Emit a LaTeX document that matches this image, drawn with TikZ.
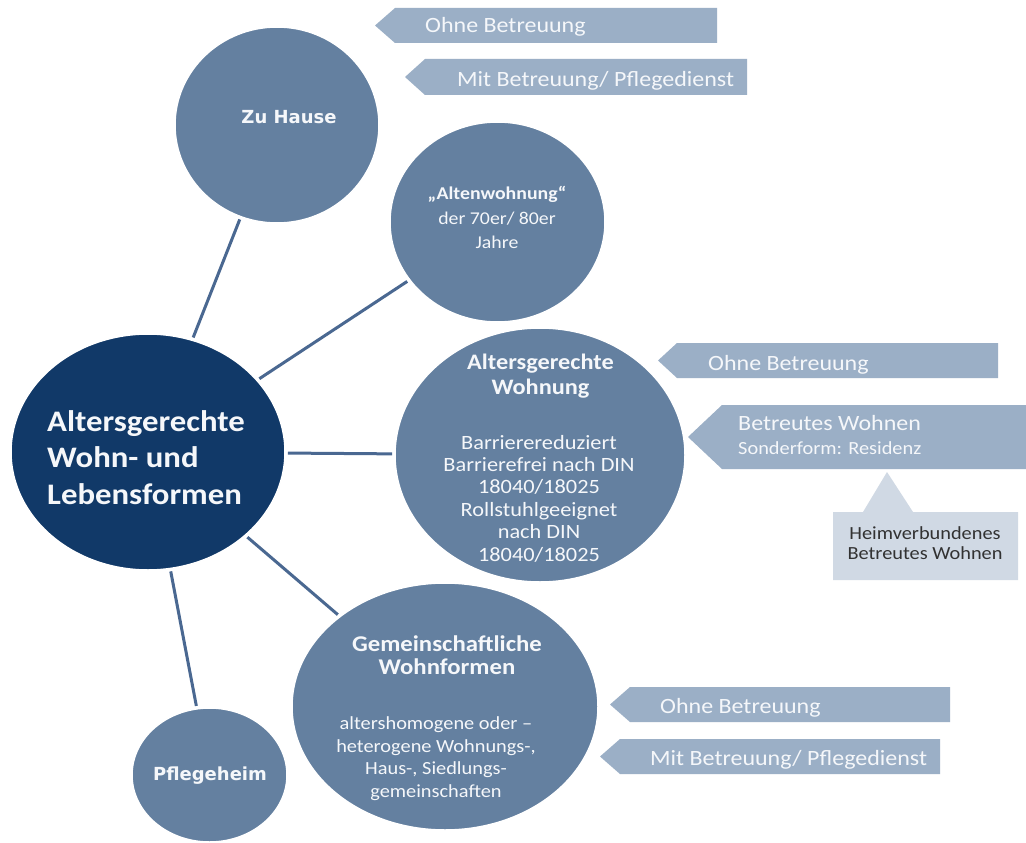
\documentclass[tikz,border=0pt]{standalone}
\usepackage{fontspec}
\setmainfont{Carlito}[FakeStretch=1.1]
\newfontfamily\dvfont{DejaVu Sans}
\usetikzlibrary{shapes.geometric}
\definecolor{mainblue}{RGB}{17,57,104}
\definecolor{circblue}{RGB}{100,128,160}
\definecolor{arrowcol}{RGB}{155,175,198}
\definecolor{heimcol}{RGB}{208,217,228}
\definecolor{linecol}{RGB}{74,104,145}
\definecolor{txtlight}{RGB}{245,247,250}
\definecolor{heimtext}{RGB}{50,50,50}
\tikzset{
  circ/.style={ellipse, fill=circblue, draw=white, line width=1.5pt, inner sep=0pt, outer sep=0pt},
  conn/.style={draw=linecol, line width=3pt, shorten >=3pt, shorten <=3pt},
  arrowbox/.style={fill=arrowcol},
  ctext/.style={text=txtlight, inner sep=0pt, align=center},
  atext/.style={text=txtlight, inner sep=0pt, anchor=base west, font=\fontsize{21.8}{26}\selectfont},
  boldsans/.style={font=\dvfont\bfseries\fontsize{18}{22}\selectfont}
}
\begin{document}
\begin{tikzpicture}[x=1pt,y=-1pt]
\useasboundingbox (0,0) rectangle (1026,843);
\fill[white] (0,0) rectangle (1026,843);

% arrow boxes
\fill[arrowbox] (375,25.5) -- (395,8) -- (717,8) -- (717,43) -- (395,43) -- cycle;
\fill[arrowbox] (405,77) -- (425,59) -- (747,59) -- (747,95) -- (425,95) -- cycle;
\fill[arrowbox] (658,360.5) -- (677,343) -- (998,343) -- (998,378) -- (677,378) -- cycle;
\fill[arrowbox] (688,437) -- (722,405) -- (1026,405) -- (1026,469) -- (722,469) -- cycle;
\fill[heimcol] (833,512) -- (863,512) -- (887,472) -- (913,512) -- (1018,512) -- (1018,580) -- (833,580) -- cycle;
\fill[arrowbox] (610,704.5) -- (630,687) -- (950,687) -- (950,722) -- (630,722) -- cycle;
\fill[arrowbox] (600,756.5) -- (620,739) -- (940,739) -- (940,774) -- (620,774) -- cycle;

% circles
\node[circ, fill=mainblue, minimum width=274pt, minimum height=236pt] (main) at (148,452) {};
\node[circ, minimum width=204pt, minimum height=196pt] (zh) at (277,125) {};
\node[circ, minimum width=215pt, minimum height=200pt] (alt) at (497.5,222) {};
\node[circ, minimum width=290pt, minimum height=254pt] (agw) at (540,455) {};
\node[circ, minimum width=306pt, minimum height=247pt] (gem) at (445,706.5) {};
\node[circ, minimum width=155pt, minimum height=134pt] (ph) at (209.5,775) {};

% connectors
\draw[conn] (main) -- (zh);
\draw[conn] (main) -- (alt);
\draw[conn] (main) -- (agw);
\draw[conn] (main) -- (gem);
\draw[conn] (main) -- (ph);

% arrow texts
\node[atext] (t1) at (425,33) {Ohne Betreuung};
\node[atext] (t2) at (457,86) {Mit Betreuung/ Pflegedienst};
\node[atext] (t3) at (708,370) {Ohne Betreuung};
\node[atext] (t4) at (738,430) {Betreutes Wohnen};
\node[atext, font=\fontsize{18.5}{22}\selectfont] (t5) at (738,454) {Sonderform: Residenz};
\node[atext] (t6) at (660,713) {Ohne Betreuung};
\node[atext] (t7) at (650,765) {Mit Betreuung/ Pflegedienst};
\node[text=heimtext, align=center, inner sep=0pt, font=\fontsize{18.5}{20}\selectfont] (heim) at (925,543) {Heimverbundenes\\Betreutes Wohnen};

% circle texts
\node[ctext, boldsans, anchor=base] (zht) at (289,123) {Zu Hause};
\node[ctext, boldsans, anchor=base] (pht) at (210,780) {Pflegeheim};
\node[ctext, align=left, anchor=west, font=\bfseries\fontsize{29.8}{36.5}\selectfont] (mt) at (47,457.3) {Altersgerechte\\Wohn- und\\Lebensformen};
\node[ctext, font=\fontsize{18}{24.5}\selectfont] (at) at (497,217.8) {\textbf{„Altenwohnung“}\\der 70er/ 80er\\Jahre};
\node[ctext, font=\bfseries\fontsize{22.1}{25}\selectfont] (awt) at (540.5,376.6) {Altersgerechte\\Wohnung};
\node[ctext, font=\fontsize{20.3}{22.4}\selectfont] (awb) at (539,498.4) {Barrierereduziert\\Barrierefrei nach DIN\\18040/18025\\Rollstuhlgeeignet\\nach DIN\\18040/18025};
\node[ctext, font=\bfseries\fontsize{22.5}{23}\selectfont] (gmt) at (447,655) {Gemeinschaftliche\\Wohnformen};
\node[ctext, font=\fontsize{18.5}{22.5}\selectfont] (gmb) at (436,758.6) {altershomogene oder –\\heterogene Wohnungs-,\\Haus-, Siedlungs-\\gemeinschaften};
\end{tikzpicture}
\end{document}
